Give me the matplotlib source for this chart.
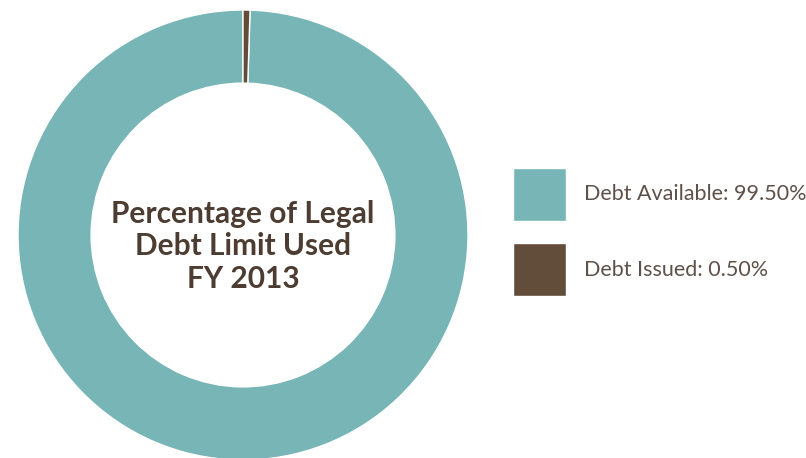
import matplotlib.pyplot as plt

categories = ["Debt Available", "Debt Issued"]
percentages = [99.50, 0.50]
colors = ["#78b5b6", "#614d3a"]
title_lines = ["Percentage of Legal", "Debt Limit Used", "FY 2013"]

fig = plt.figure(figsize=(8.06, 4.58), dpi=100)
# square axes holding the donut, slightly clipped at the bottom like the original
ax = fig.add_axes([18 / 806, -2 / 458, 450 / 806, 450 / 458])

wedges, _ = ax.pie(percentages, colors=colors, startangle=90, counterclock=True,
                   wedgeprops=dict(width=0.325, edgecolor="white", linewidth=1.0))
ax.set_xlim(-1, 1)
ax.set_ylim(-1, 1)
ax.set_aspect("equal")
ax.axis("off")

ax.text(0, -0.05, "\n".join(title_lines), ha="center", va="center",
        fontsize=21.5, fontweight="bold", family="Lato", color="#4d3c31",
        linespacing=1.2)

labels = ["{}: {:.2f}%".format(c, p) for c, p in zip(categories, percentages)]
leg = fig.legend(wedges, labels, loc="center left", bbox_to_anchor=(513 / 806, 1 - 232 / 458),
                 frameon=False, fontsize=15.5, handlelength=2.45, handleheight=3.4,
                 labelspacing=1.05, handletextpad=0.85, borderaxespad=0, borderpad=0)
for t in leg.get_texts():
    t.set_color("#5d514a")
    t.set_family("Lato")
    t.set_fontweight("normal")

fig.savefig("out.png", dpi=100)
